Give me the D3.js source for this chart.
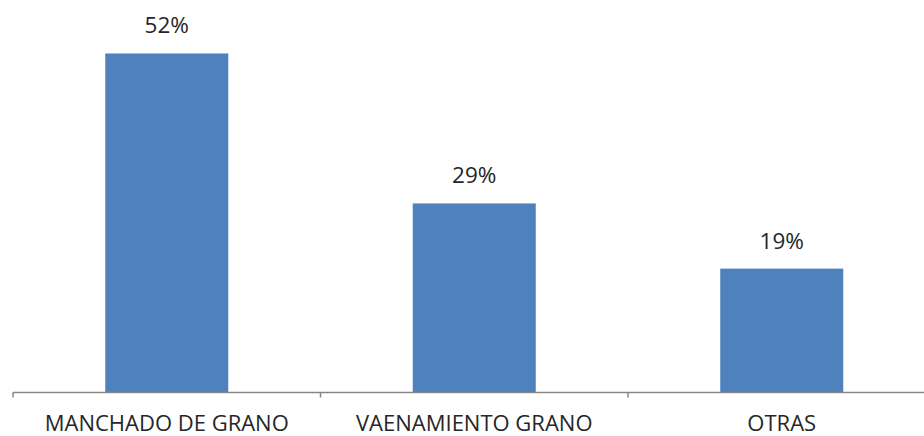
<!DOCTYPE html>
<html>
<head>
<meta charset="utf-8">
<script src="https://cdn.jsdelivr.net/npm/d3@7"></script>
<style>
  html, body { margin: 0; padding: 0; background: #fff; }
  svg { display: block; }
  text { font-family: "Open Sans", "Noto Sans", sans-serif; fill: #262626; }
</style>
</head>
<body>
<svg id="chart" width="924" height="436"></svg>
<script>
const categories = ["MANCHADO DE GRANO", "VAENAMIENTO GRANO", "OTRAS"];
const values = [52, 29, 19];
const valueLabels = ["52%", "29%", "19%"];

const svg = d3.select("#chart");
const baseY = 392.5;

const x = d3.scaleBand()
  .domain(categories)
  .range([13, 935.5])
  .paddingInner(0.6)
  .paddingOuter(0.3);

const y = d3.scaleLinear()
  .domain([0, 60])
  .range([baseY, baseY - 60 * 6.52]);

// bars
svg.append("g").selectAll("rect")
  .data(categories)
  .join("rect")
  .attr("x", d => x(d))
  .attr("width", x.bandwidth())
  .attr("y", (d, i) => y(values[i]))
  .attr("height", (d, i) => baseY - y(values[i]))
  .attr("fill", "#4f81bd");

// value labels
svg.append("g").selectAll("text")
  .data(categories)
  .join("text")
  .attr("x", d => x(d) + x.bandwidth() / 2)
  .attr("y", (d, i) => y(values[i]) - 20)
  .attr("text-anchor", "middle")
  .style("font-size", "22.5px")
  .text((d, i) => valueLabels[i]);

// x axis
const gx = svg.append("g").attr("transform", `translate(0,${baseY})`);
gx.append("line")
  .attr("x1", 13).attr("x2", 924)
  .attr("stroke", "#868686").attr("stroke-width", 1.5);
const bounds = categories.map(d => x(d) - x.step() * x.paddingInner() / 2);
bounds[0] = x.range()[0];
gx.selectAll("line.tick")
  .data(bounds)
  .join("line")
  .attr("class", "tick")
  .attr("x1", d => d).attr("x2", d => d)
  .attr("y1", 0).attr("y2", 5)
  .attr("stroke", "#868686").attr("stroke-width", 1.5);

gx.selectAll("text.cat")
  .data(categories)
  .join("text")
  .attr("class", "cat")
  .attr("x", d => x(d) + x.bandwidth() / 2)
  .attr("y", 38)
  .attr("text-anchor", "middle")
  .style("font-size", "22px")
  .text(d => d);
</script>
</body>
</html>
